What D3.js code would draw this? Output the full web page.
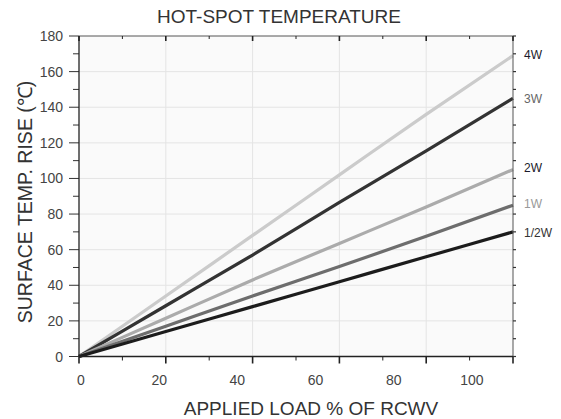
<!DOCTYPE html>
<html><head><meta charset="utf-8">
<script src="https://cdn.jsdelivr.net/npm/d3@7"></script>
<style>body{margin:0;background:#fff;}svg{display:block;}</style>
</head><body>
<svg id="c" width="561" height="419"></svg>
<script>
const seriesNames = ["4W","3W","2W","1W","1/2W"];
const loadX = [0,22,44,66,88,110];
const w4 = [0,34,68,102,136,169];
const w3 = [0,28.5,57,86.5,115.5,145];
const w2 = [0,21.5,43,63.5,84,105];
const w1 = [0,17,34,50.5,67.5,85];
const wHalf = [0,14,28,42,56,70];
const xTickLabels = [0,20,40,60,80,100];
const yTickLabels = [0,20,40,60,80,100,120,140,160,180];

const values = [w4,w3,w2,w1,wHalf];
const lineColors = ["#cbcbcb","#333333","#ababab","#6d6d6d","#1c1c1c"];
const labelColors = ["#1a1a2a","#666666","#1a1a2a","#999999","#333333"];

const svg = d3.select("#c");
const L=79,R=513,T=36,B=356.5;
const x = d3.scaleLinear().domain([0,110]).range([L,R]);
const y = d3.scaleLinear().domain([0,180]).range([B,T]);

svg.append("rect").attr("x",L).attr("y",T).attr("width",R-L).attr("height",B-T).attr("fill","#fafafa");

// gridlines
svg.append("g").selectAll("line").data(d3.range(20,180,20)).join("line")
  .attr("x1",L).attr("x2",R).attr("y1",d=>y(d)).attr("y2",d=>y(d))
  .attr("stroke","#e4e4e4").attr("stroke-width",1);
svg.append("g").selectAll("line").data([22,44,66,88]).join("line")
  .attr("y1",T).attr("y2",B).attr("x1",d=>x(d)).attr("x2",d=>x(d))
  .attr("stroke","#e4e4e4").attr("stroke-width",1);

// lines
const line = d3.line().x((d,i)=>x(loadX[i])).y(d=>y(d)).curve(d3.curveMonotoneX);
values.forEach((v,k)=>{
  svg.append("path").datum(v).attr("d",line).attr("fill","none")
    .attr("stroke",lineColors[k]).attr("stroke-width",3.2).attr("stroke-linecap","butt");
});

// frame
svg.append("line").attr("x1",L).attr("x2",R).attr("y1",T).attr("y2",T).attr("stroke","#555").attr("stroke-width",1);
svg.append("line").attr("x1",R).attr("x2",R).attr("y1",T).attr("y2",B).attr("stroke","#555").attr("stroke-width",1);

// bottom axis ticks
const xt = d3.range(0,111,11);
svg.append("g").selectAll("line").data(xt).join("line")
  .attr("x1",d=>x(d)).attr("x2",d=>x(d)).attr("y1",B).attr("y2",(d,i)=>B+(i%2===0?7:4))
  .attr("stroke","#222").attr("stroke-width",(d,i)=>i%2===0?1.6:1);
// top ticks inward
svg.append("g").selectAll("line").data(xt).join("line")
  .attr("x1",d=>x(d)).attr("x2",d=>x(d)).attr("y1",T).attr("y2",(d,i)=>T+(i%2===0?5:3))
  .attr("stroke","#222").attr("stroke-width",(d,i)=>i%2===0?1.6:1);
// left ticks
const yt = d3.range(0,181,10);
svg.append("g").selectAll("line").data(yt).join("line")
  .attr("y1",d=>y(d)).attr("y2",d=>y(d)).attr("x1",(d)=>L-(d%20===0?10:6)).attr("x2",L)
  .attr("stroke","#333").attr("stroke-width",1);
// right ticks
svg.append("g").selectAll("line").data(yt).join("line")
  .attr("y1",d=>y(d)).attr("y2",d=>y(d)).attr("x1",R).attr("x2",R+3)
  .attr("stroke","#333").attr("stroke-width",1.2);
// axis lines
svg.append("line").attr("x1",L).attr("x2",L).attr("y1",T).attr("y2",B).attr("stroke","#222").attr("stroke-width",1.3);
svg.append("line").attr("x1",L).attr("x2",R).attr("y1",B).attr("y2",B).attr("stroke","#222").attr("stroke-width",1.3);

// tick labels
const font = "Liberation Sans, Arial, sans-serif";
const xl = d3.scaleLinear().domain([0,110]).range([81,511]);
svg.append("g").selectAll("text").data(xTickLabels).join("text")
  .attr("x",d=>xl(d)).attr("y",385).attr("text-anchor","middle")
  .attr("font-family",font).attr("font-size",14).attr("fill","#444").text(d=>d);
svg.append("g").selectAll("text").data(yTickLabels).join("text")
  .attr("x",63).attr("y",d=>y(d)+5).attr("text-anchor","end")
  .attr("font-family",font).attr("font-size",14).attr("fill","#444").text(d=>d);

// series labels
const labelY = [54,98,167,203,232];
seriesNames.forEach((n,k)=>{
  svg.append("text").attr("x",524).attr("y",labelY[k]+4.5).attr("font-family",font)
    .attr("font-size",12).attr("fill",labelColors[k]).text(n);
});

// titles
svg.append("text").attr("x",279).attr("y",23).attr("text-anchor","middle")
  .attr("font-family",font).attr("font-size",19).attr("fill","#333").text("HOT-SPOT TEMPERATURE");
svg.append("text").attr("x",311).attr("y",415).attr("text-anchor","middle")
  .attr("font-family",font).attr("font-size",19).attr("fill","#333").text("APPLIED LOAD % OF RCWV");
svg.append("text").attr("transform","translate(32,202) rotate(-90)").attr("text-anchor","middle")
  .attr("font-family",font).attr("font-size",19.5).attr("fill","#333").text("SURFACE TEMP. RISE (℃)");
</script>
</body></html>
